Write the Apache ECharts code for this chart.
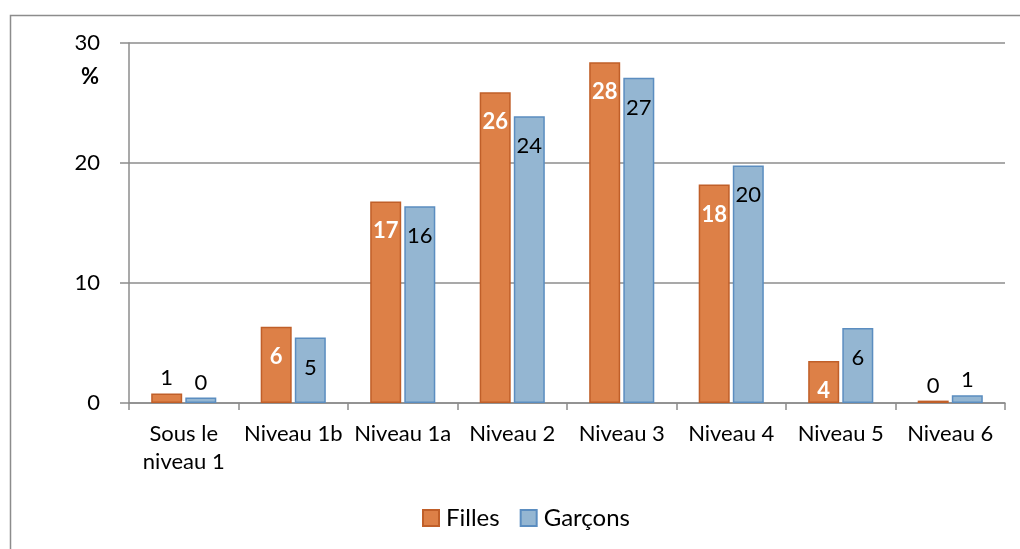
<!DOCTYPE html>
<html>
<head>
<meta charset="utf-8">
<script src="https://cdn.jsdelivr.net/npm/echarts@6/dist/echarts.min.js"></script>
<style>
  html, body { margin: 0; padding: 0; background: #fff; }
  #main { width: 1020px; height: 549px; }
</style>
</head>
<body>
<div id="main"></div>
<script>
// données
const categories = ['Sous le\nniveau 1', 'Niveau 1b', 'Niveau 1a', 'Niveau 2', 'Niveau 3', 'Niveau 4', 'Niveau 5', 'Niveau 6'];
const filles = [0.8, 6.35, 16.8, 25.9, 28.4, 18.2, 3.5, 0.2];
const garcons = [0.45, 5.45, 16.4, 23.9, 27.1, 19.8, 6.25, 0.65];
const yTicks = [0, 10, 20, 30];

const FONT = 'Lato';

// petites valeurs : étiquette au-dessus de la barre
const makeData = (values) => values.map(v => {
  if (v >= 2) return { value: v };
  return {
    value: v,
    label: { position: 'top', color: '#000', fontWeight: 'normal', distance: 4 }
  };
});

const chart = echarts.init(document.getElementById('main'), null, { renderer: 'canvas' });

const option = {
  backgroundColor: '#fff',
  animation: false,
  textStyle: { fontFamily: FONT },
  graphic: [
    {
      type: 'rect',
      left: 8, top: 13,
      shape: { width: 1100, height: 600 },
      style: { fill: 'none', stroke: '#8c8c8c', lineWidth: 1.5 },
      silent: true
    },
    {
      type: 'text',
      left: 81, top: 66,
      style: { text: '%', font: 'bold 22px ' + FONT, fill: '#000' }
    }
  ],
  grid: { left: 129, top: 43, right: 15, bottom: 146, containLabel: false },
  legend: {
    left: 422, top: 506,
    padding: 0,
    icon: 'rect',
    itemWidth: 16, itemHeight: 16, itemGap: 20,
    textStyle: { fontFamily: FONT, fontSize: 24, color: '#000', padding: [0, 0, 0, 2] },
    data: ['Filles', 'Garçons']
  },
  xAxis: {
    type: 'category',
    data: categories,
    axisLine: { lineStyle: { color: '#8c8c8c', width: 1.5 } },
    axisTick: { show: true, length: 7, lineStyle: { color: '#8c8c8c', width: 1.5 } },
    axisLabel: { fontFamily: FONT, fontSize: 22, color: '#000', margin: 17, lineHeight: 28, interval: 0 }
  },
  yAxis: {
    type: 'value',
    min: yTicks[0], max: yTicks[yTicks.length - 1], interval: 10,
    axisLine: { show: true, lineStyle: { color: '#8c8c8c', width: 1.5 } },
    axisTick: { show: true, length: 9, lineStyle: { color: '#8c8c8c', width: 1.5 } },
    splitLine: { lineStyle: { color: '#8c8c8c', width: 1.5 } },
    axisLabel: { fontFamily: FONT, fontSize: 22, color: '#000', margin: 29 }
  },
  series: [
    {
      name: 'Filles',
      type: 'bar',
      barWidth: 31,
      barGap: '10%',
      itemStyle: { color: '#dd8047', borderColor: '#c05f29', borderWidth: 1.5 },
      label: {
        show: true, position: 'insideTop', distance: 19,
        fontFamily: FONT, fontSize: 22, fontWeight: 'bold', color: '#fff',
        formatter: p => Math.round(p.value)
      },
      data: makeData(filles)
    },
    {
      name: 'Garçons',
      type: 'bar',
      barWidth: 31,
      itemStyle: { color: '#94b6d2', borderColor: '#5b8dc0', borderWidth: 1.5 },
      label: {
        show: true, position: 'insideTop', distance: 19,
        fontFamily: FONT, fontSize: 22, color: '#000',
        formatter: p => Math.round(p.value)
      },
      data: makeData(garcons)
    }
  ]
};

chart.setOption(option);
</script>
</body>
</html>
